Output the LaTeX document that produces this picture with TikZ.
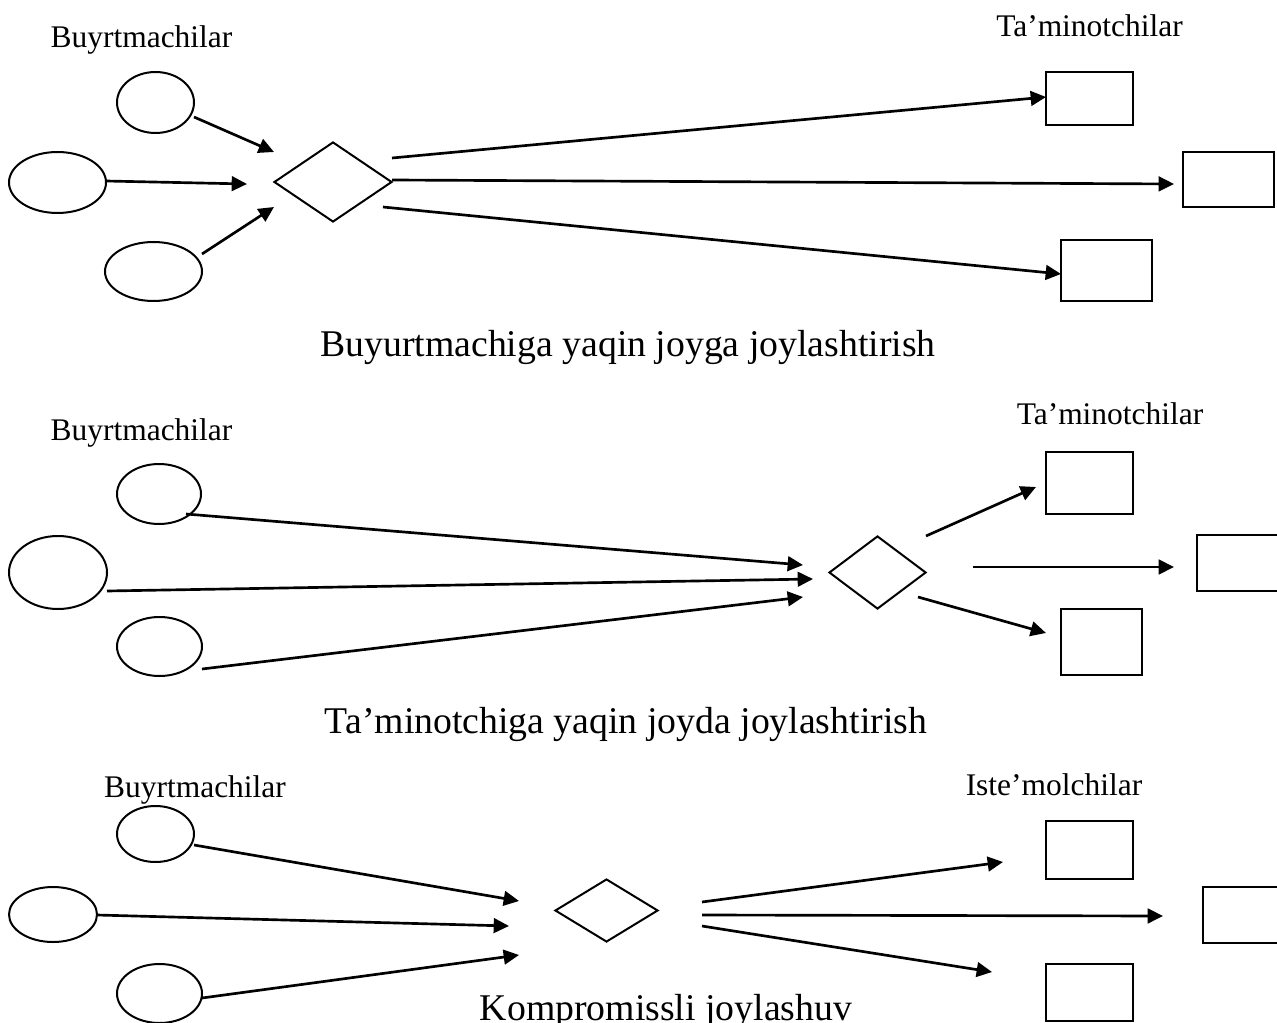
\documentclass[tikz,border=0pt]{standalone}
\usepackage{fontspec}
\setmainfont{Liberation Serif}
\usetikzlibrary{shapes.geometric,arrows.meta}
\begin{document}
\begin{tikzpicture}[x=0.75pt,y=-0.75pt,
  oval/.style={draw,ellipse,line width=1.5pt,inner sep=0pt},
  dia/.style={draw,diamond,line width=1.5pt,inner sep=0pt},
  box/.style={draw,rectangle,line width=1.5pt,inner sep=0pt},
  arr/.style={line width=2pt,-{Triangle[length=11.5pt,width=11pt]}},
  lbl/.style={anchor=base,inner sep=0pt,font=\fontsize{23.6}{28}\selectfont},
  captext/.style={anchor=base,inner sep=0pt,font=\fontsize{28.3}{34}\selectfont}]
\clip (0,0) rectangle (1277,1023);
\fill[white] (0,0) rectangle (1277,1023);

% ---------- Section 1 ----------
\node[lbl] (t11) at (141.5,48) {Buyrtmachilar};
\node[lbl] (t12) at (1089.5,37) {Ta’minotchilar};
\node[captext] (c1) at (628,357) {Buyurtmachiga yaqin joyga joylashtirish};
\node[oval,minimum width=77*0.75pt,minimum height=61*0.75pt] (e11) at (155.5,102.5) {};
\node[oval,minimum width=97*0.75pt,minimum height=61*0.75pt] (e12) at (57.5,182.5) {};
\node[oval,minimum width=97*0.75pt,minimum height=59*0.75pt] (e13) at (153.5,271.5) {};
\node[dia,minimum width=118*0.75pt,minimum height=80*0.75pt] (d1) at (333,182) {};
\node[box,minimum width=87*0.75pt,minimum height=53*0.75pt] (b11) at (1089.5,98.5) {};
\node[box,minimum width=91*0.75pt,minimum height=55*0.75pt] (b12) at (1228.5,179.5) {};
\node[box,minimum width=91*0.75pt,minimum height=61*0.75pt] (b13) at (1106.5,270.5) {};
\coordinate (s11) at (194,117);  \coordinate (p11) at (274,152);
\coordinate (s12) at (106,181);  \coordinate (p12) at (247,184);
\coordinate (s13) at (202,254);  \coordinate (p13) at (274,207);
\coordinate (s14) at (392,158);  \coordinate (p14) at (1046,97);
\coordinate (s15) at (392,180);  \coordinate (p15) at (1174,184);
\coordinate (s16) at (383,207);  \coordinate (p16) at (1061,274);
\foreach \i in {1,...,6} {\draw[arr] (s1\i) -- (p1\i);}

% ---------- Section 2 ----------
\node[lbl] (t21) at (141.5,440) {Buyrtmachilar};
\node[lbl] (t22) at (1110,424) {Ta’minotchilar};
\node[captext] (c2) at (626,733) {Ta’minotchiga yaqin joyda joylashtirish};
\node[oval,minimum width=84*0.75pt,minimum height=60*0.75pt] (e21) at (159,494) {};
\node[oval,minimum width=98*0.75pt,minimum height=73*0.75pt] (e22) at (58,572.5) {};
\node[oval,minimum width=85*0.75pt,minimum height=59*0.75pt] (e23) at (159.5,646.5) {};
\node[dia,minimum width=97*0.75pt,minimum height=73*0.75pt] (d2) at (877.5,572.5) {};
\node[box,minimum width=87*0.75pt,minimum height=62*0.75pt] (b21) at (1089.5,483) {};
\node[box,minimum width=90*0.75pt,minimum height=56*0.75pt] (b22) at (1242,563) {};
\node[box,minimum width=81*0.75pt,minimum height=66*0.75pt] (b23) at (1101.5,642) {};
\coordinate (s21) at (186,514);  \coordinate (p21) at (803,565);
\coordinate (s22) at (107,591);  \coordinate (p22) at (813,579);
\coordinate (s23) at (202,669);  \coordinate (p23) at (803,597);
\coordinate (s24) at (926,536);  \coordinate (p24) at (1036,487);
\coordinate (s25) at (973,567);  \coordinate (p25) at (1174,567);
\coordinate (s26) at (918,597);  \coordinate (p26) at (1046,633);
\foreach \i in {1,...,6} {\draw[arr] (s2\i) -- (p2\i);}

% ---------- Section 3 ----------
\node[lbl] (t31) at (195,797) {Buyrtmachilar};
\node[lbl] (t32) at (1054,795) {Iste’molchilar};
\node[captext] (c3) at (666,1020) {Kompromissli joylashuv};
\node[oval,minimum width=77*0.75pt,minimum height=56*0.75pt] (e31) at (155.5,834) {};
\node[oval,minimum width=88*0.75pt,minimum height=55*0.75pt] (e32) at (53,914.5) {};
\node[oval,minimum width=85*0.75pt,minimum height=59*0.75pt] (e33) at (159.5,993.5) {};
\node[dia,minimum width=103*0.75pt,minimum height=63*0.75pt] (d3) at (606.5,910.5) {};
\node[box,minimum width=87*0.75pt,minimum height=58*0.75pt] (b31) at (1089.5,850) {};
\node[box,minimum width=90*0.75pt,minimum height=56*0.75pt] (b32) at (1248,915) {};
\node[box,minimum width=87*0.75pt,minimum height=57*0.75pt] (b33) at (1089.5,992.5) {};
\coordinate (s31) at (194,845);  \coordinate (p31) at (519,901);
\coordinate (s32) at (97,915);   \coordinate (p32) at (509,926);
\coordinate (s33) at (202,998);  \coordinate (p33) at (519,955);
\coordinate (s34) at (702,902);  \coordinate (p34) at (1003,862);
\coordinate (s35) at (702,915);  \coordinate (p35) at (1163,916);
\coordinate (s36) at (702,926);  \coordinate (p36) at (992,972);
\foreach \i in {1,...,6} {\draw[arr] (s3\i) -- (p3\i);}
\end{tikzpicture}
\end{document}
